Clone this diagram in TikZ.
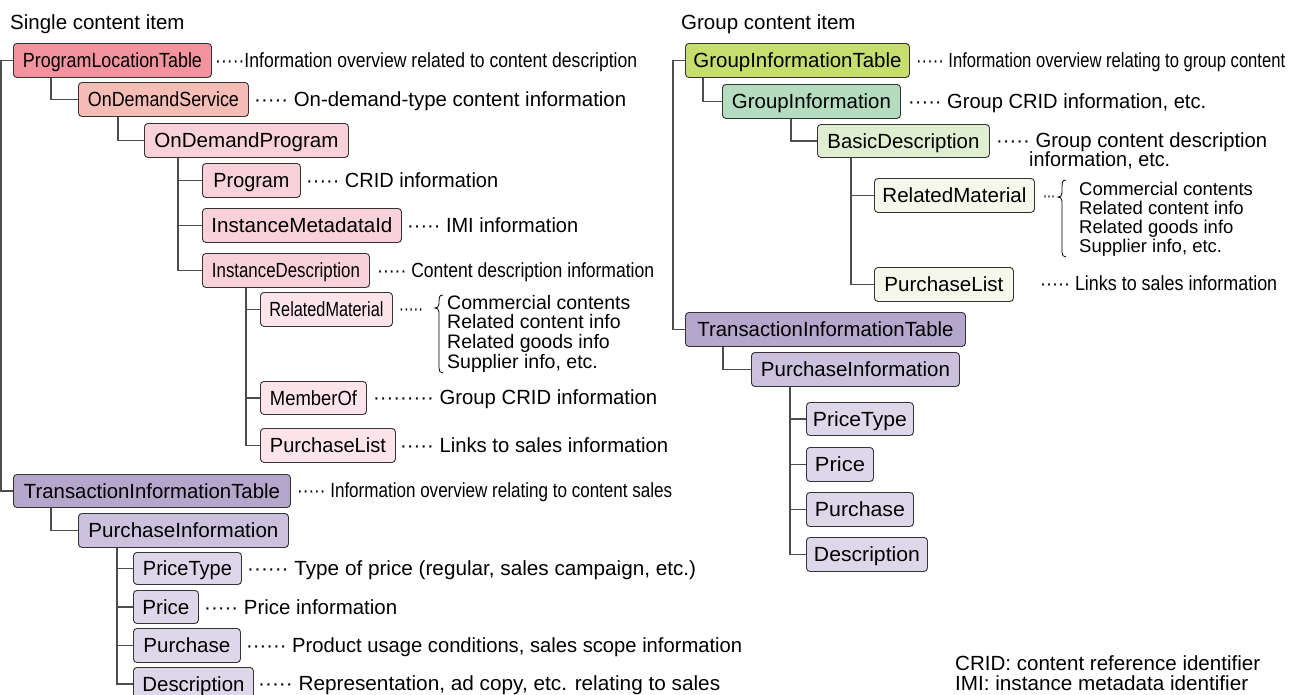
\documentclass[tikz,border=0pt]{standalone}
\usepackage{fontspec}
\setmainfont{Liberation Sans}
\usepackage{graphicx}
\usetikzlibrary{calc}

% text squeezed or stretched to a given width (in pt), height kept
\newcommand\fw[2]{\resizebox{#1pt}{\height}{#2}}

\definecolor{cPLT}{HTML}{F2939E}
\definecolor{cODS}{HTML}{F6BDB7}
\definecolor{cODP}{HTML}{F9D1DB}
\definecolor{cLeafP}{HTML}{FDE4EA}
\definecolor{cTIT}{HTML}{B5A7CB}
\definecolor{cPI}{HTML}{CCC1DD}
\definecolor{cLeafV}{HTML}{DED7E9}
\definecolor{cGIT}{HTML}{C6DE6E}
\definecolor{cGI}{HTML}{B4DCBF}
\definecolor{cBD}{HTML}{DFEDD0}
\definecolor{cLeafG}{HTML}{F6F7EB}
\definecolor{lineC}{HTML}{4D4D4D}
\definecolor{edgeC}{HTML}{333333}

\begin{document}
\begin{tikzpicture}[x=1pt,y=-1pt,
  every node/.style={font=\fontsize{20.5pt}{24pt}\selectfont, text=black},
  box/.style={draw=edgeC, line width=0.9pt, rounded corners=3.5pt,
    inner sep=0pt, anchor=north west, text height=14.6pt, text depth=0pt},
  desc/.style={anchor=base west, inner sep=0pt},
  listtext/.style={anchor=base west, inner sep=0pt},
  conn/.style={draw=lineC, line width=1.2pt},
  bracepath/.style={draw=black, line width=0.8pt}]

\useasboundingbox (0,0) rectangle (1297,694);

% ---------------- titles ----------------
\node[desc] (ttlA) at (10,29) {Single content item};
\node[desc] (ttlB) at (681,29) {Group content item};

% ---------------- single content item: boxes ----------------
\node[box, fill=cPLT, minimum width=198pt, minimum height=34pt] (plt) at (13,43) {\fw{179}{ProgramLocationTable}};
\node[box, fill=cODS, minimum width=170pt, minimum height=34pt] (ods) at (78,82) {\fw{151}{OnDemandService}};
\node[box, fill=cODP, minimum width=204pt, minimum height=34pt] (odp) at (144,123) {\fw{184}{OnDemandProgram}};
\node[box, fill=cODP, minimum width=98pt, minimum height=34pt] (prog) at (202,163) {\fw{76}{Program}};
\node[box, fill=cODP, minimum width=199pt, minimum height=34pt] (imi) at (202,208) {\fw{181}{InstanceMetadataId}};
\node[box, fill=cODP, minimum width=167pt, minimum height=34pt] (idesc) at (202,253) {\fw{148}{InstanceDescription}};
\node[box, fill=cLeafP, minimum width=132pt, minimum height=34pt] (rml) at (260,292) {\fw{114}{RelatedMaterial}};
\node[box, fill=cLeafP, minimum width=106pt, minimum height=33pt] (mem) at (260,381) {\fw{87}{MemberOf}};
\node[box, fill=cLeafP, minimum width=135pt, minimum height=34pt] (pll) at (260,428) {\fw{116}{PurchaseList}};

\node[box, fill=cTIT, minimum width=277pt, minimum height=33pt] (titl) at (13,474) {\fw{256}{TransactionInformationTable}};
\node[box, fill=cPI, minimum width=210pt, minimum height=34pt] (pil) at (78,513) {\fw{190}{PurchaseInformation}};
\node[box, fill=cLeafV, minimum width=108pt, minimum height=32pt] (ptl) at (133,552) {\fw{89}{PriceType}};
\node[box, fill=cLeafV, minimum width=65pt, minimum height=33pt] (prl) at (133,590) {\fw{47}{Price}};
\node[box, fill=cLeafV, minimum width=107pt, minimum height=34pt] (pul) at (133,628) {\fw{87}{Purchase}};
\node[box, fill=cLeafV, minimum width=120pt, minimum height=33pt] (del) at (133,667) {\fw{102}{Description}};

% ---------------- single content item: connectors ----------------
\coordinate (pltT) at ([xshift=38pt]plt.south west);
\coordinate (odsT) at ([xshift=40pt]ods.south west);
\coordinate (odpT) at ([xshift=34pt]odp.south west);
\coordinate (idT)  at ([xshift=44pt]idesc.south west);
\coordinate (titT) at ([xshift=38pt]titl.south west);
\coordinate (pilT) at ([xshift=39pt]pil.south west);
\coordinate (rootA) at ([xshift=-12pt]plt.west);

\draw[conn] (plt.west) -- (rootA) |- (titl.west);
\draw[conn] (pltT) |- (ods.west);
\draw[conn] (odsT) |- (odp.west);
\draw[conn] (odpT) |- (idesc.west);
\draw[conn] (prog.west) -- (prog.west -| odpT);
\draw[conn] (imi.west) -- (imi.west -| odpT);
\draw[conn] (idT) |- (pll.west);
\draw[conn] (rml.west) -- (rml.west -| idT);
\draw[conn] (mem.west) -- (mem.west -| idT);
\draw[conn] (titT) |- (pil.west);
\draw[conn] (pilT) |- (del.west);
\draw[conn] (ptl.west) -- (ptl.west -| pilT);
\draw[conn] (prl.west) -- (prl.west -| pilT);
\draw[conn] (pul.west) -- (pul.west -| pilT);

% ---------------- single content item: descriptions ----------------
\node[desc] (dPLT) at (215,67) {\fw{422}{·····Information overview related to content description}};
\node[desc] (dODS) at (254,106) {\fw{372}{····· On-demand-type content information}};
\node[desc] (dPRG) at (306,187) {\fw{192}{····· CRID information}};
\node[desc] (dIMI) at (407,232) {\fw{171}{····· IMI information}};
\node[desc] (dID)  at (377,277) {\fw{277}{····· Content description information}};
\node[desc] (dRML) at (399,315) {\fw{24}{·····}};
\node[desc] (dMEM) at (373,404) {\fw{284}{········· Group CRID information}};
\node[desc] (dPLL) at (400,452) {\fw{268}{····· Links to sales information}};
\node[desc] (dTIT) at (297,497) {\fw{375}{····· Information overview relating to content sales}};
\node[desc] (dPTL) at (247,575) {\fw{449}{······ Type of price (regular, sales campaign, etc.)}};
\node[desc] (dPRL) at (204,614) {\fw{193}{····· Price information}};
\node[desc] (dPUL) at (246,652) {\fw{496}{······ Product usage conditions, sales scope information}};
\node[desc] (dDEL) at (258,690) {\fw{462}{····· Representation, ad copy, etc. relating to sales}};

% brace and list next to RelatedMaterial
\draw[bracepath] (443,295) .. controls (439,295) and (439,298) .. (439,301)
  -- (439,304) .. controls (439,307) and (437,308) .. (435,308)
  .. controls (437,308) and (439,309) .. (439,312)
  -- (439,368) .. controls (439,371) and (440,373) .. (443,373);
\foreach \t [count=\i from 0] in {Commercial contents, Related content info, Related goods info, {Supplier info, etc.}}
  \node[listtext, font=\fontsize{19.5pt}{20pt}\selectfont] (lstA\i) at (447,{309+19.7*\i}) {\t};

% ---------------- group content item: boxes ----------------
\node[box, fill=cGIT, minimum width=224pt, minimum height=34pt] (git) at (685,43) {\fw{208}{GroupInformationTable}};
\node[box, fill=cGI, minimum width=178pt, minimum height=34pt] (gi) at (722,84) {\fw{159}{GroupInformation}};
\node[box, fill=cBD, minimum width=172pt, minimum height=33pt] (bd) at (817,124) {\fw{152}{BasicDescription}};
\node[box, fill=cLeafG, minimum width=160pt, minimum height=34pt] (rmr) at (874,178) {\fw{144}{RelatedMaterial}};
\node[box, fill=cLeafG, minimum width=139pt, minimum height=34pt] (plr) at (874,267) {\fw{119}{PurchaseList}};

\node[box, fill=cTIT, minimum width=280pt, minimum height=34pt] (titr) at (685,312) {\fw{256}{TransactionInformationTable}};
\node[box, fill=cPI, minimum width=208pt, minimum height=34pt] (pir) at (751,352) {\fw{189}{PurchaseInformation}};
\node[box, fill=cLeafV, minimum width=107pt, minimum height=33pt] (ptr) at (806,402) {\fw{94}{PriceType}};
\node[box, fill=cLeafV, minimum width=67pt, minimum height=34pt] (prr) at (806,447) {\fw{50}{Price}};
\node[box, fill=cLeafV, minimum width=107pt, minimum height=34pt] (pur) at (806,492) {\fw{90}{Purchase}};
\node[box, fill=cLeafV, minimum width=121pt, minimum height=34pt] (der) at (806,537) {\fw{106}{Description}};

% ---------------- group content item: connectors ----------------
\coordinate (gitT) at ([xshift=18pt]git.south west);
\coordinate (giT)  at ([xshift=69pt]gi.south west);
\coordinate (bdT)  at ([xshift=34pt]bd.south west);
\coordinate (titrT) at ([xshift=38pt]titr.south west);
\coordinate (pirT) at ([xshift=39pt]pir.south west);
\coordinate (rootB) at ([xshift=-12pt]git.west);

\draw[conn] (git.west) -- (rootB) |- (titr.west);
\draw[conn] (gitT) |- (gi.west);
\draw[conn] (giT) |- (bd.west);
\draw[conn] (bdT) |- (plr.west);
\draw[conn] (rmr.west) -- (rmr.west -| bdT);
\draw[conn] (titrT) |- (pir.west);
\draw[conn] (pirT) |- (der.west);
\draw[conn] (ptr.west) -- (ptr.west -| pirT);
\draw[conn] (prr.west) -- (prr.west -| pirT);
\draw[conn] (pur.west) -- (pur.west -| pirT);

% ---------------- group content item: descriptions ----------------
\node[desc] (dGIT) at (916,67) {\fw{369}{····· Information overview relating to group content}};
\node[desc] (dGI)  at (908,108) {\fw{298}{····· Group CRID information, etc.}};
\node[desc] (dBD)  at (996,147) {\fw{271}{····· Group content description}};
\node[desc] (dBD2) at (1029,166) {\fw{141}{information, etc.}};
\node[desc] (dRMR) at (1043,202) {\fw{12}{···}};
\node[desc] (dPLR) at (1040,290) {\fw{237}{····· Links to sales information}};

\draw[bracepath] (1066,180) .. controls (1062,180) and (1062,183) .. (1062,186)
  -- (1062,193) .. controls (1062,196) and (1060,197) .. (1058,197)
  .. controls (1060,197) and (1062,198) .. (1062,201)
  -- (1062,252) .. controls (1062,255) and (1063,257) .. (1066,257);
\foreach \t [count=\i from 0] in {Commercial contents, Related content info, Related goods info, {Supplier info, etc.}}
  \node[listtext, font=\fontsize{18.5pt}{19pt}\selectfont] (lstB\i) at (1079,{195+19.3*\i}) {\t};

% ---------------- abbreviations ----------------
\node[desc] (ab1) at (955,670) {\fw{305}{CRID: content reference identifier}};
\node[desc] (ab2) at (955,690) {\fw{293}{IMI: instance metadata identifier}};

\end{tikzpicture}
\end{document}
